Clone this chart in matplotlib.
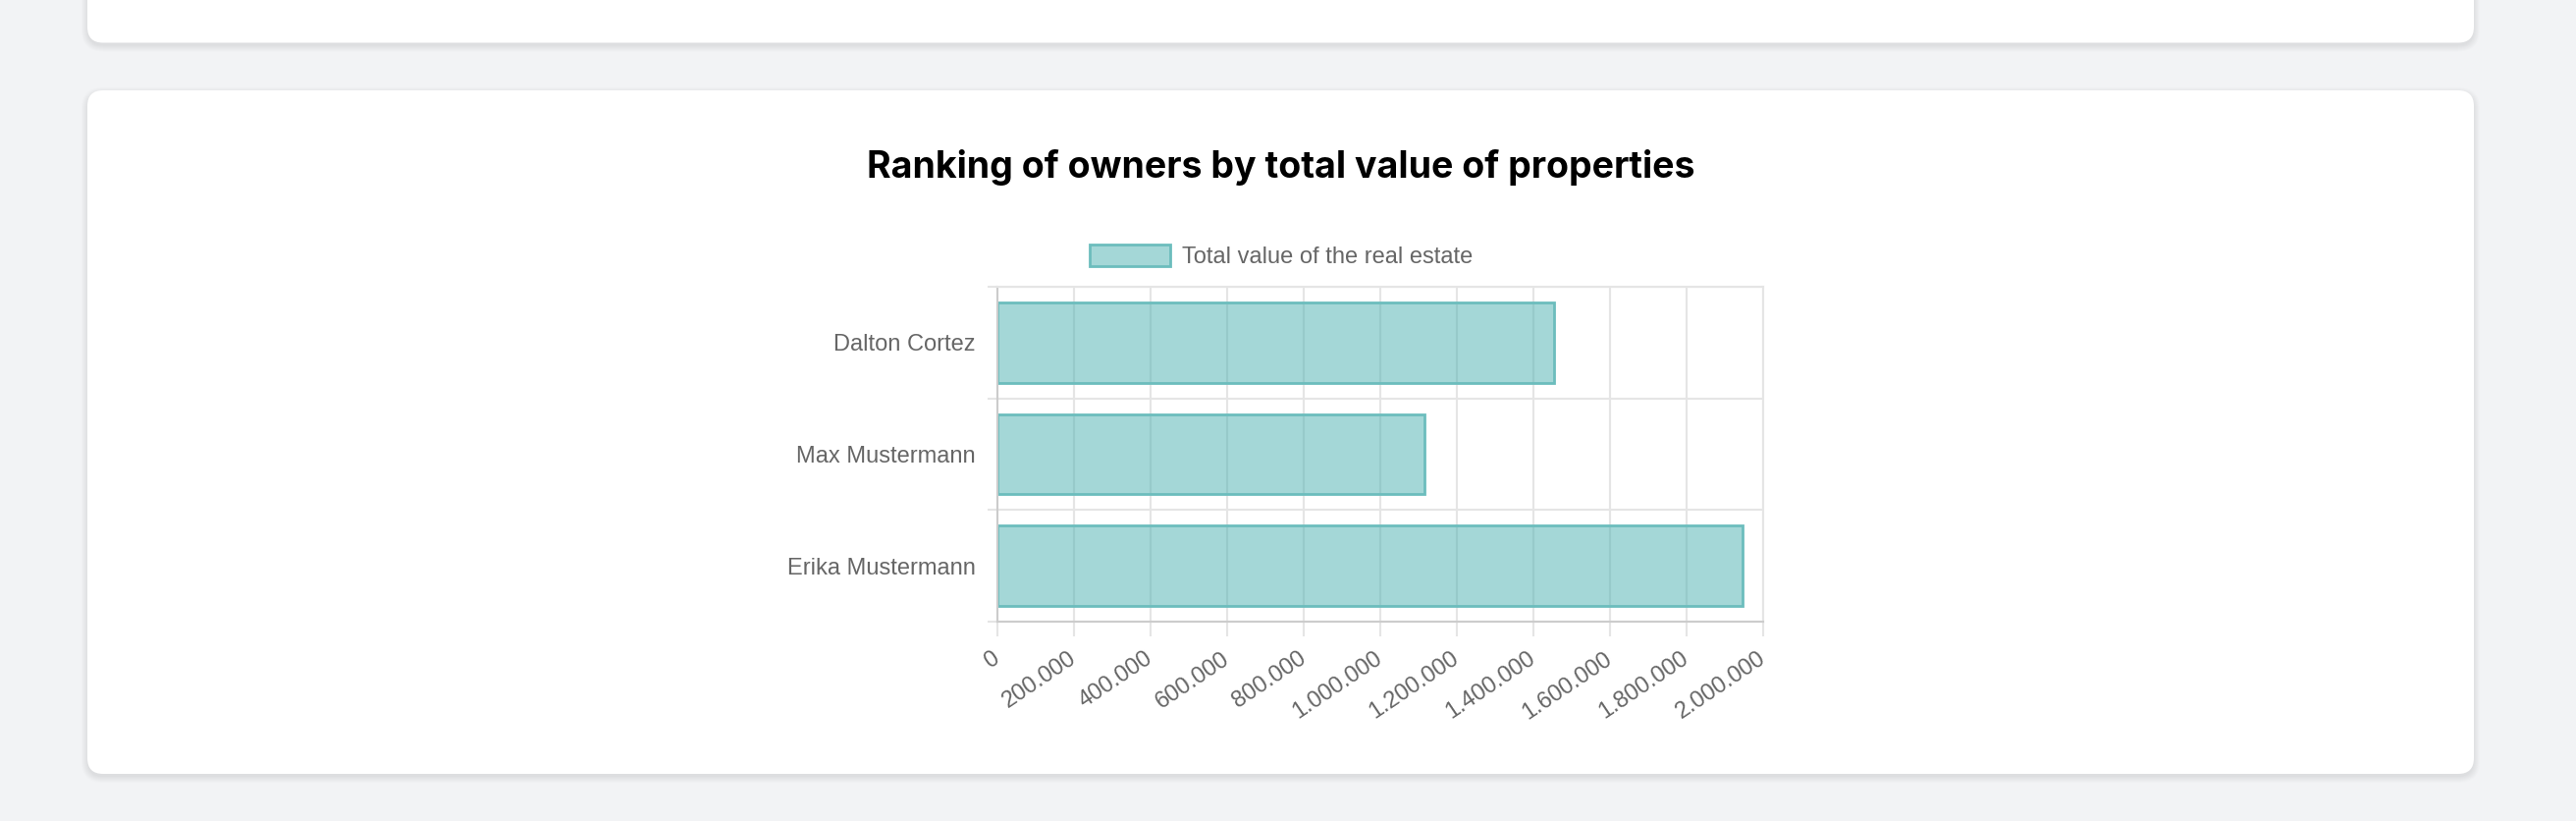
import matplotlib.pyplot as plt
from matplotlib.patches import FancyBboxPatch, Patch
from matplotlib.ticker import FuncFormatter, MultipleLocator

# data
owners = ["Dalton Cortez", "Max Mustermann", "Erika Mustermann"]
total_values = [1455000, 1115000, 1945000]
legend_label = "Total value of the real estate"
title = "Ranking of owners by total value of properties"

W, H = 2624, 836
plt.rcParams['font.family'] = ['Liberation Sans', 'DejaVu Sans']

fig = plt.figure(figsize=(W / 100, H / 100), dpi=100)
fig.patch.set_facecolor("#f2f3f5")

# background layer in pixel coordinates for the two cards
bg = fig.add_axes([0, 0, 1, 1])
bg.set_xlim(0, W)
bg.set_ylim(H, 0)
bg.axis("off")


def card(x0, y0, x1, y1, r=16):
    # soft drop shadow
    for k in range(7):
        bg.add_patch(FancyBboxPatch((x0 - k, y0 + 3 - k), x1 - x0 + 2 * k, y1 - y0 + 2 * k,
                                    boxstyle=f"round,pad=0,rounding_size={r + k}",
                                    facecolor="black", edgecolor="none", alpha=0.012))
    bg.add_patch(FancyBboxPatch((x0, y0), x1 - x0, y1 - y0,
                                boxstyle=f"round,pad=0,rounding_size={r}",
                                facecolor="white", edgecolor="none"))


card(89, -60, 2520, 43.5)
card(89, 92, 2520, 788)

# chart area
ax = fig.add_axes([1016 / W, 1 - 633 / H, 780 / W, (633 - 292) / H])
ax.set_zorder(2)
ax.set_facecolor("white")

grid_c = "#e5e5e5"
text_c = "#666666"
bar_face = (75 / 255, 176 / 255, 176 / 255, 0.5)
bar_edge = "#6cbdbd"

ax.barh(range(len(owners)), total_values, height=0.72,
        facecolor=bar_face, edgecolor=bar_edge, linewidth=2, label=legend_label)

ax.set_xlim(0, 2000000)
ax.set_ylim(len(owners) - 0.5, -0.5)
ax.xaxis.set_major_locator(MultipleLocator(200000))
ax.xaxis.set_major_formatter(FuncFormatter(lambda v, p: f"{int(v):,}".replace(",", ".")))

ax.set_yticks(range(len(owners)))
ax.set_yticklabels(owners)
ax.set_yticks([i - 0.5 for i in range(len(owners) + 1)], minor=True)

ax.set_axisbelow(True)
ax.grid(axis="x", which="major", color=grid_c, linewidth=1.5)
ax.grid(axis="y", which="minor", color=grid_c, linewidth=1.5)
ax.grid(axis="y", which="major", visible=False)

ax.tick_params(axis="y", which="major", length=0, pad=16, labelsize=17, labelcolor=text_c)
ax.tick_params(axis="y", which="minor", length=7.5, width=1.5, color=grid_c)
ax.tick_params(axis="x", which="major", length=10.8, width=1.5, color=grid_c,
               labelsize=17, labelcolor=text_c, pad=15)
for lbl in ax.get_xticklabels():
    lbl.set_rotation(34)
    lbl.set_ha("right")
    lbl.set_va("center")
    lbl.set_rotation_mode("anchor")

for side in ["left", "bottom"]:
    ax.spines[side].set_color("#cccccc")
    ax.spines[side].set_linewidth(1.5)
for side in ["top", "right"]:
    ax.spines[side].set_color(grid_c)
    ax.spines[side].set_linewidth(1.5)

fig.text(1305 / W, 1 - 181 / H, title, ha="center", va="baseline",
         fontsize=27, fontweight="bold", family=["Inter", "DejaVu Sans"], color="black")

fig.legend(handles=[Patch(facecolor=bar_face, edgecolor=bar_edge, linewidth=2, label=legend_label)],
           loc="center", bbox_to_anchor=(1305 / W, 1 - 261 / H), frameon=False,
           fontsize=17, handlelength=3.5, handleheight=1.05, handletextpad=0.5,
           labelcolor=text_c)

fig.savefig("out.png", dpi=100, facecolor=fig.get_facecolor())
